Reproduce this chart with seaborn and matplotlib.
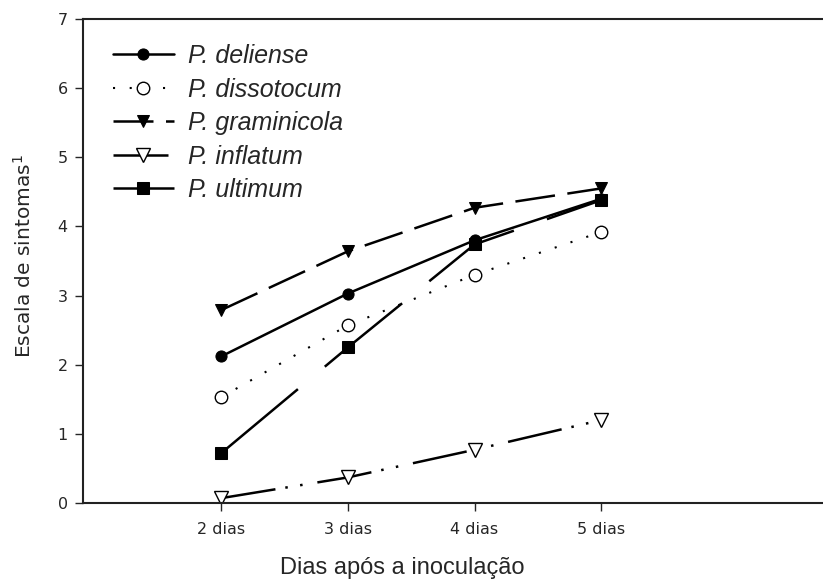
import matplotlib
matplotlib.use("Agg")
import matplotlib.pyplot as plt
import seaborn as sns
import pandas as pd

# data
days = [2, 3, 4, 5]
day_labels = ["2 dias", "3 dias", "4 dias", "5 dias"]
species = ["P. deliense", "P. dissotocum", "P. graminicola", "P. inflatum", "P. ultimum"]
deliense = [2.12, 3.03, 3.80, 4.40]
dissotocum = [1.53, 2.57, 3.30, 3.92]
graminicola = [2.79, 3.64, 4.27, 4.55]
inflatum = [0.07, 0.37, 0.77, 1.20]
ultimum = [0.72, 2.25, 3.74, 4.38]

sns.set_style("white")
plt.rcParams["font.family"] = ["Liberation Sans", "DejaVu Sans"]
plt.rcParams["mathtext.default"] = "regular"

fig = plt.figure(figsize=(8.23, 5.87), dpi=100)
ax = fig.add_axes([0.1009, 0.1431, 0.8991, 0.8245])

series = [
    (deliense, dict(marker="o", ms=8, mfc="black", linestyle="-")),
    (dissotocum, dict(marker="o", ms=9, mfc="white", mew=1.0, linestyle=(0, (1, 7)), lw=1.5)),
    (graminicola, dict(marker="v", ms=9, mfc="black", linestyle=(0, (16, 5)))),
    (inflatum, dict(marker="v", ms=10, mfc="white", mew=1.0, linestyle=(0, (22, 4, 1, 5, 1, 6)))),
    (ultimum, dict(marker="s", ms=9, mfc="black", linestyle=(0, (40, 14)))),
]

for name, (vals, style) in zip(species, series):
    df = pd.DataFrame({"dia": days, "escala": vals})
    kw = dict(color="black", mec="black", lw=1.8)
    kw.update(style)
    sns.lineplot(data=df, x="dia", y="escala", ax=ax, label=name, **kw)

ax.set_xlim(0.91, 6.75)
ax.set_ylim(0, 7)
ax.set_xticks(days)
ax.set_xticklabels(day_labels, fontsize=11.5, family="DejaVu Sans")
ax.set_yticks(range(0, 8))
ax.set_yticklabels([str(v) for v in range(0, 8)], fontsize=11.5, family="DejaVu Sans")
ax.tick_params(axis="y", direction="out", length=6, width=1, left=True, pad=5)
ax.tick_params(axis="x", direction="out", length=6, width=1, bottom=True, pad=8)

for side in ["left", "top", "bottom"]:
    ax.spines[side].set_color("#222222")
    ax.spines[side].set_linewidth(1.5)
ax.spines["right"].set_visible(False)

ax.set_ylabel("Escala de sintomas$^1$", fontsize=14.5, family="DejaVu Sans")
ax.yaxis.set_label_coords(-0.065, 0.51)
ax.set_xlabel("Dias após a inoculação", fontsize=17)
ax.xaxis.set_label_coords((402 - 83) / 740, -0.112)

leg = ax.legend(loc="upper left", bbox_to_anchor=(0.04, 0.948), frameon=False,
                fontsize=18, handlelength=2.45, handletextpad=0.55, labelspacing=0.38,
                borderaxespad=0, borderpad=0)
for t in leg.get_texts():
    t.set_fontstyle("italic")

fig.savefig("out.png", dpi=100)
